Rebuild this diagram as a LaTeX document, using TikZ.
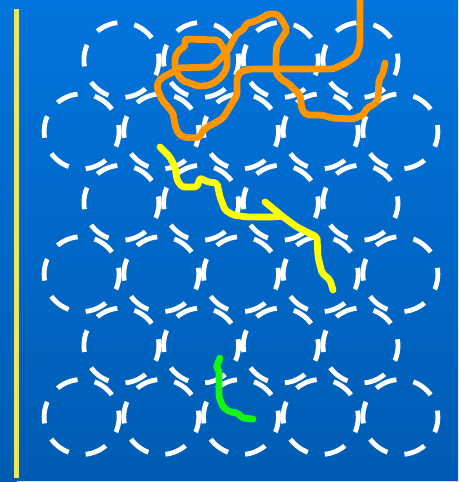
\documentclass[tikz,border=0pt]{standalone}
\definecolor{bgtop}{RGB}{3,116,221}
\definecolor{bgmid}{RGB}{2,108,210}
\definecolor{bgbot}{RGB}{0,92,178}
\definecolor{axisyellow}{RGB}{232,232,100}
\definecolor{walkorange}{RGB}{255,150,0}
\definecolor{walkyellow}{RGB}{255,255,0}
\definecolor{walkgreen}{RGB}{20,245,20}
\begin{document}
\begin{tikzpicture}[x=1pt, y=-1pt, line cap=round, line join=round,
    ring/.style={white, line width=4.8pt, line cap=butt,
      dash pattern=on 22pt off 17.27pt, dash phase=15.6pt},
    walk/.style={line width=6.8pt, rounded corners=2pt}]
  \useasboundingbox (0,0) rectangle (458,482);
  \shade[top color=bgtop, middle color=bgmid, bottom color=bgbot] (0,0) rectangle (458,482);
  \foreach \row in {0,2,4} {
    \foreach \col in {0,...,3}
      \draw[ring] ({121.4+79.7*\col},{60+71.4*\row}) circle[radius=37.5pt];
  }
  \foreach \row in {1,3,5} {
    \foreach \col in {0,...,4}
      \draw[ring] ({81.6+79.7*\col},{60+71.4*\row}) circle[radius=37.5pt];
  }
  \draw[axisyellow, line width=5pt, line cap=butt] (16.5,9) -- (16.5,478);
  \draw[axisyellow, line width=2pt, line cap=butt] (17,481.5) -- (458,481.5);
  \draw[walk, walkorange] (185,39) -- (218,40) -- (223,47) -- (227,55) -- (227,67)
    -- (223,75) -- (218,80) -- (212,84) -- (205,86) -- (197,86) -- (190,83)
    -- (183,81) -- (178,75) -- (175,67) -- (175,57) -- (180,49) -- (185,47) -- cycle;
  \draw[walk, walkorange] (360,-5) -- (360,44) -- (356,56) -- (346,63) -- (333,69)
    -- (250,69) -- (240,72) -- (237,78) -- (237,95) -- (228,110) -- (223,118)
    -- (215,123) -- (207,127) -- (202,132) -- (200,137) -- (193,138) -- (183,137)
    -- (178,133) -- (175,125) -- (173,113) -- (168,107) -- (162,100) -- (157,88)
    -- (158,82) -- (163,77) -- (173,72) -- (178,68) -- (212,67) -- (217,62)
    -- (222,57) -- (228,50) -- (232,42) -- (237,33) -- (243,30) -- (247,23)
    -- (253,22) -- (262,18) -- (268,14) -- (277,14) -- (282,20) -- (287,30)
    -- (282,38) -- (277,45) -- (276,53) -- (276,73) -- (282,80) -- (288,83)
    -- (293,88) -- (300,95) -- (302,110) -- (307,115) -- (322,115) -- (332,118)
    -- (353,119) -- (363,115) -- (367,108) -- (373,105) -- (378,100) -- (379,80)
    -- (383,73) -- (385,63);
  \draw[walk, walkyellow] (160,147) -- (170,157) -- (175,167) -- (177,180) -- (182,187)
    -- (197,187) -- (200,178) -- (208,182) -- (217,183) -- (220,197) -- (225,210)
    -- (233,215) -- (247,217) -- (273,217) -- (282,216) -- (297,227) -- (317,237)
    -- (318,257) -- (322,273) -- (330,280) -- (333,290);
  \draw[walk, walkyellow] (265,202) -- (275,210) -- (282,216);
  \draw[walk, walkgreen] (220,358) -- (216,368) -- (219,369) -- (219,397) -- (223,407)
    -- (230,412) -- (238,413) -- (242,418) -- (253,419);
\end{tikzpicture}
\end{document}
